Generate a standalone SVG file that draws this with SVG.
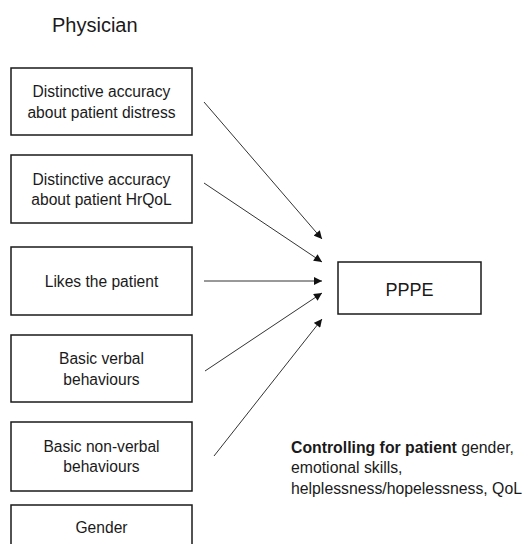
<svg xmlns="http://www.w3.org/2000/svg" width="525" height="544" viewBox="0 0 525 544">
  <style>
    .box { fill: #ffffff; stroke: #1a1a1a; stroke-width: 1.5; }
    .lbl { font-family: "Liberation Sans", Arial, sans-serif; font-size: 15.6px; fill: #1a1a1a; text-anchor: middle; }
    .edge { stroke: #333333; stroke-width: 1; fill: none; marker-end: url(#head); }
    .note { font-family: "Liberation Sans", Arial, sans-serif; font-size: 15.8px; fill: #1a1a1a; }
  </style>
  <defs>
    <marker id="head" viewBox="0 0 10 10" refX="10" refY="5" markerWidth="9" markerHeight="8" markerUnits="userSpaceOnUse" orient="auto">
      <path d="M0,0 L10,5 L0,10 z" fill="#111111"/>
    </marker>
  </defs>
  <rect width="525" height="544" fill="#ffffff"/>

  <text x="52" y="32" font-family="Liberation Sans, Arial, sans-serif" font-size="20" fill="#1a1a1a">Physician</text>

  <g id="distress">
    <rect class="box" x="11" y="68" width="181" height="67"/>
    <text class="lbl" x="101.5" y="97">Distinctive accuracy</text>
    <text class="lbl" x="101.5" y="118">about patient distress</text>
  </g>
  <g id="hrqol">
    <rect class="box" x="11" y="155" width="181" height="68"/>
    <text class="lbl" x="101.5" y="185">Distinctive accuracy</text>
    <text class="lbl" x="101.5" y="205">about patient HrQoL</text>
  </g>
  <g id="likes">
    <rect class="box" x="11" y="247" width="181" height="68"/>
    <text class="lbl" x="101.5" y="287">Likes the patient</text>
  </g>
  <g id="verbal">
    <rect class="box" x="11" y="335" width="181" height="67"/>
    <text class="lbl" x="101.5" y="364">Basic verbal</text>
    <text class="lbl" x="101.5" y="385">behaviours</text>
  </g>
  <g id="nonverbal">
    <rect class="box" x="11" y="422" width="181" height="69"/>
    <text class="lbl" x="101.5" y="452">Basic non-verbal</text>
    <text class="lbl" x="101.5" y="472">behaviours</text>
  </g>
  <g id="gender">
    <rect class="box" x="11" y="505" width="181" height="60"/>
    <text class="lbl" x="101.5" y="533">Gender</text>
  </g>

  <g id="pppe">
    <rect class="box" x="338" y="262" width="143" height="52"/>
    <text class="lbl" x="409.5" y="296" style="font-size:18px">PPPE</text>
  </g>

  <g id="connectors">
    <line class="edge" x1="204" y1="102" x2="322" y2="239"/>
    <line class="edge" x1="204" y1="183" x2="322" y2="262"/>
    <line class="edge" x1="204" y1="281" x2="322" y2="281"/>
    <line class="edge" x1="205" y1="371" x2="322" y2="293"/>
    <line class="edge" x1="214" y1="456" x2="322" y2="319"/>
  </g>

  <g id="controls">
    <text class="note" x="291" y="453"><tspan font-weight="bold">Controlling for patient</tspan> gender,</text>
    <text class="note" x="291" y="473">emotional skills,</text>
    <text class="note" x="291" y="494">helplessness/hopelessness, QoL</text>
  </g>
</svg>
